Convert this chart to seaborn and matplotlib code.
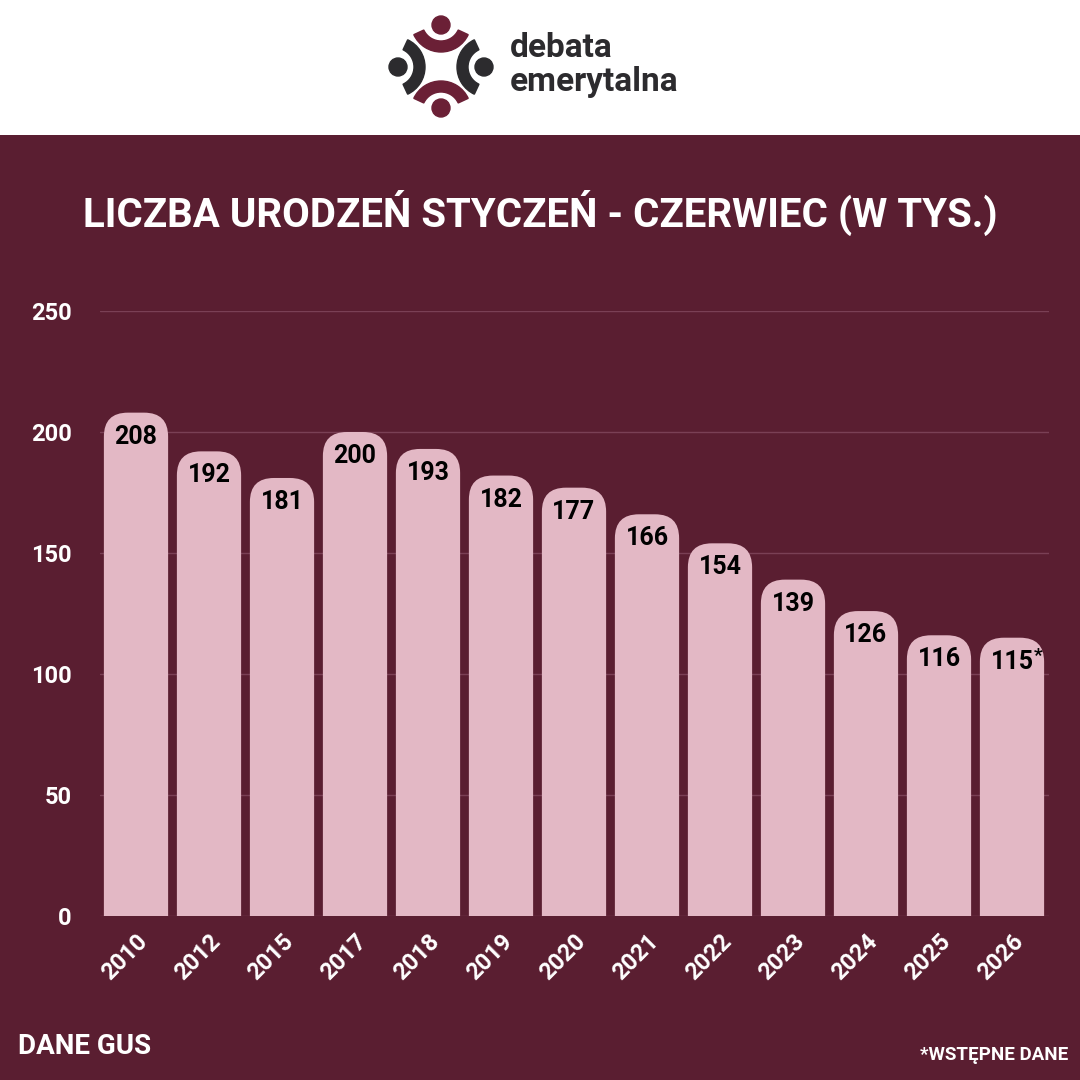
import matplotlib
matplotlib.use("Agg")
import matplotlib.pyplot as plt
import seaborn as sns
import pandas as pd
from matplotlib.patches import FancyBboxPatch, Rectangle, Circle, Wedge

years = ["2010", "2012", "2015", "2017", "2018", "2019", "2020", "2021", "2022", "2023", "2024", "2025", "2026"]
values = [208, 192, 181, 200, 193, 182, 177, 166, 154, 139, 126, 116, 115]
yticks = [0, 50, 100, 150, 200, 250]
title = "LICZBA URODZEŃ STYCZEŃ - CZERWIEC (W TYS.)"
source = "DANE GUS"
note = "*WSTĘPNE DANE"

BG = "#5a1e31"
PINK = "#e3b8c5"
GRID = "#7a4055"
DARK = "#2c2b2e"
MAROON = "#6b2036"

sns.set_theme(style="white")
plt.rcParams["font.family"] = ["Roboto", "DejaVu Sans"]

W = H = 1080
fig = plt.figure(figsize=(10.8, 10.8), dpi=100, facecolor=BG)

# white header band
fig.patches.append(Rectangle((0, 1 - 135 / H), 1, 135 / H, transform=fig.transFigure,
                             facecolor="white", edgecolor="none", zorder=-1))

ax_left, ax_right = 99.5, 1048.5
ax_top, ax_bottom = 311, 916
ax = fig.add_axes([ax_left / W, 1 - ax_bottom / H, (ax_right - ax_left) / W, (ax_bottom - ax_top) / H])
ax.set_facecolor(BG)

df = pd.DataFrame({"year": years, "value": values})
sns.barplot(data=df, x="year", y="value", color=PINK, saturation=1, width=0.88, ax=ax, zorder=2)

ax.set_ylim(0, 250)
ax.set_xlim(-0.5, len(years) - 0.5)

# replace bars with rounded-top bars
px_per_x = (ax_right - ax_left) / len(years)
px_per_y = (ax_bottom - ax_top) / 250
radius_px = 24
r_x = radius_px / px_per_x
aspect = px_per_x / px_per_y
for p in list(ax.patches):
    x0, w, h = p.get_x(), p.get_width(), p.get_height()
    p.remove()
    bottom = -30
    fb = FancyBboxPatch((x0, bottom), w, h - bottom,
                        boxstyle=f"round,pad=0,rounding_size={r_x}",
                        mutation_aspect=aspect, facecolor=PINK, edgecolor="none",
                        zorder=2, clip_on=True)
    ax.add_patch(fb)

# value labels
for i, v in enumerate(values):
    ax.text(i, v - 24 / px_per_y, str(v), ha="center", va="center", fontsize=18,
            fontweight="bold", color="black", zorder=3)
ax.text(len(values) - 1 + 0.30, values[-1] - 18 / px_per_y, "*", ha="left", va="center",
        fontsize=14, fontweight="bold", color="black", zorder=3)

ax.set_yticks(yticks)
ax.set_yticklabels([str(t) for t in yticks])
ax.yaxis.grid(True, color=GRID, linewidth=1, zorder=0)
ax.set_axisbelow(True)
for s in ax.spines.values():
    s.set_visible(False)
ax.tick_params(axis="y", length=0, pad=20, labelsize=17, labelcolor="white")
ax.tick_params(axis="x", length=0, pad=10, labelsize=17, labelcolor="white")
for lbl in ax.get_yticklabels():
    lbl.set_fontweight("bold")
for lbl in ax.get_xticklabels():
    lbl.set_fontweight("bold")
    lbl.set_rotation(45)
    lbl.set_ha("right")
    lbl.set_rotation_mode("anchor")
ax.set_xlabel("")
ax.set_ylabel("")

# title and notes
fig.text(0.5, 1 - 213 / H, title, ha="center", va="center", fontsize=29,
         fontweight="bold", color="white")
fig.text(18 / W, 1 - 1046 / H, source, ha="left", va="center", fontsize=20,
         fontweight="bold", color="white")
fig.text(1068 / W, 1 - 1055 / H, note, ha="right", va="center", fontsize=13.5,
         fontweight="bold", color="white")

# logo
lax = fig.add_axes([380 / W, 1 - 125 / H, 120 / W, 120 / H], zorder=5)
lax.set_xlim(380, 500)
lax.set_ylim(125, 5)
lax.set_aspect("equal")
lax.axis("off")
cx, cy = 441, 67
# top (maroon)
lax.add_patch(Circle((cx, 25), 9, color=MAROON))
lax.add_patch(Wedge((cx, 22), 30, 25, 155, width=11, color=MAROON))
# bottom (maroon)
lax.add_patch(Circle((cx, 108), 9, color=MAROON))
lax.add_patch(Wedge((cx, 111), 30, 205, 335, width=11, color=MAROON))
# left (dark)
lax.add_patch(Circle((398, cy), 9, color=DARK))
lax.add_patch(Wedge((395, cy), 30, -65, 65, width=11, color=DARK))
# right (dark)
lax.add_patch(Circle((484, cy), 9, color=DARK))
lax.add_patch(Wedge((487, cy), 30, 115, 245, width=11, color=DARK))

fig.text(510 / W, 1 - 48 / H, "debata", ha="left", va="center", fontsize=24,
         fontweight="bold", color=DARK)
fig.text(510 / W, 1 - 82 / H, "emerytalna", ha="left", va="center", fontsize=24,
         fontweight="bold", color=DARK)

fig.savefig("out.png", dpi=100, facecolor=BG)
